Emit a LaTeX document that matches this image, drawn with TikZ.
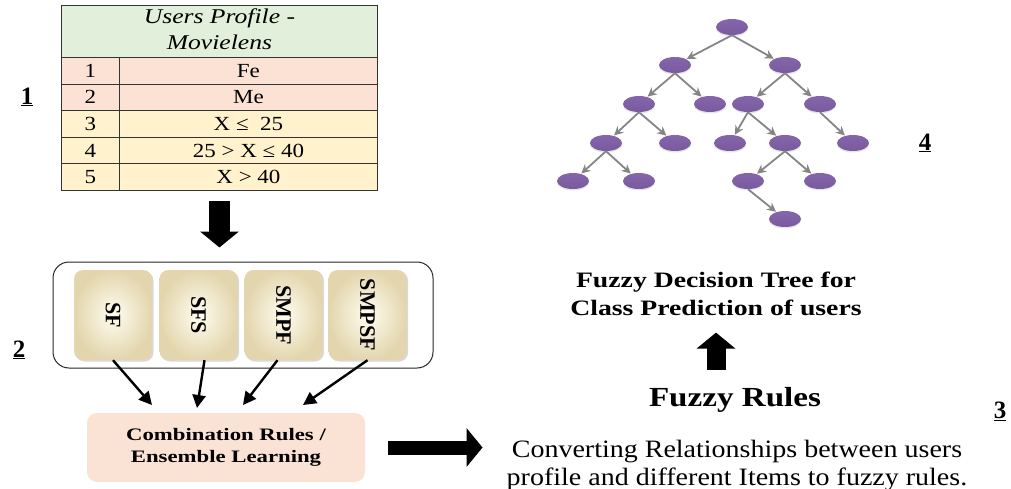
\documentclass[tikz,border=0pt]{standalone}
\usepackage{fontspec}
\usepackage{graphicx}
\setmainfont{Liberation Serif}
\usetikzlibrary{arrows.meta,shapes.geometric,shadows}
\definecolor{hdr}{HTML}{E2EFDA}
\definecolor{rowa}{HTML}{FBE2D5}
\definecolor{rowb}{HTML}{FFF2CC}
\definecolor{combc}{HTML}{FAE2D4}
\definecolor{creamin}{HTML}{FFFDF0}
\definecolor{creamout}{HTML}{E3D6AE}
\definecolor{purp}{HTML}{7A5A9E}
\definecolor{purpl}{HTML}{8466AA}
\definecolor{edgeg}{HTML}{858585}
\newcommand{\hs}[2]{\scalebox{#1}[1]{#2}}
\begin{document}
\begin{tikzpicture}[x=1pt,y=-1pt,
  cell/.style={draw=black!80, line width=0.9pt, anchor=north west, inner sep=0pt, minimum height=26.6pt, font=\fontsize{20}{22}\selectfont},
  ncell/.style={cell, minimum width=58pt},
  vcell/.style={cell, minimum width=258pt},
  fbox/.style={rounded corners=9pt, minimum width=78pt, minimum height=90pt, inner color=creamin, outer color=creamout, drop shadow={opacity=0.3, shadow xshift=1.5pt, shadow yshift=-1.5pt}},
  ftext/.style={rotate=-90, inner sep=0pt, font=\fontsize{22}{24}\selectfont\bfseries},
  thinarr/.style={draw=black, line width=2.4pt, -{Triangle[length=13pt,width=13pt]}},
  blk/.style={draw=black, -{Triangle[length=16pt,width=38pt]}},
  tn/.style={ellipse, top color=purpl, bottom color=purp, minimum width=32pt, minimum height=16pt, inner sep=0pt,
    drop shadow={opacity=0.2, shadow xshift=0pt, shadow yshift=-1.5pt}},
  te/.style={draw=edgeg, line width=1.8pt, -{Stealth[length=9pt,width=9pt]}, shorten >=0.5pt},
  lbl/.style={inner sep=0pt, font=\fontsize{25}{28}\selectfont\bfseries}
]
\useasboundingbox (0,0) rectangle (1011,489);
% ---- table
\node[cell, fill=hdr, minimum width=316pt, minimum height=52pt] (hd) at (61,5)
  {\fontsize{21}{26}\selectfont\hs{1.22}{\begin{tabular}{@{}c@{}}\itshape Users Profile -\\\itshape Movielens\end{tabular}}};
\node[ncell, fill=rowa] (r1n) at (61,57) {\hs{1.15}{1}};
\node[vcell, fill=rowa] (r1v) at (119,57) {\hs{1.15}{Fe}};
\node[ncell, fill=rowa] (r2n) at (61,83.6) {\hs{1.15}{2}};
\node[vcell, fill=rowa] (r2v) at (119,83.6) {\hs{1.15}{Me}};
\node[ncell, fill=rowb] (r3n) at (61,110.2) {\hs{1.15}{3}};
\node[vcell, fill=rowb] (r3v) at (119,110.2) {\hs{1.15}{X ≤ \ 25}};
\node[ncell, fill=rowb] (r4n) at (61,136.8) {\hs{1.15}{4}};
\node[vcell, fill=rowb] (r4v) at (119,136.8) {\hs{1.15}{25 > X ≤ 40}};
\node[ncell, fill=rowb] (r5n) at (61,163.4) {\hs{1.15}{5}};
\node[vcell, fill=rowb] (r5v) at (119,163.4) {\hs{1.15}{X > 40}};
\node[lbl] (l1) at (27,97) {\underline{1}};
% ---- container
\node[draw=black!85, line width=1pt, rounded corners=16pt, minimum width=380pt, minimum height=106pt] (cont) at (243,315) {};
\draw[blk, line width=21pt, shorten <=10pt, shorten >=14pt] (hd.south |- r5v.south) -- (hd.south |- cont.north);
\node[fbox] (b1) at (113,315) {};
\node[fbox] (b2) at (198.5,315) {};
\node[fbox] (b3) at (283.5,315) {};
\node[fbox] (b4) at (367.5,315) {};
\node[ftext] (t1) at (b1) {SF};
\node[ftext] (t2) at (b2) {SFS};
\node[ftext] (t3) at (b3) {SMPF};
\node[ftext] (t4) at (b4) {SMPSF};
\node[lbl] (l2) at (19,350) {\underline{2}};
% ---- combination
\node[fill=combc, rounded corners=10pt, minimum width=278pt, minimum height=69pt, inner sep=0pt,
  font=\fontsize{17.5}{22}\selectfont\bfseries] (comb) at (226,447.5)
  {\hs{1.3}{\begin{tabular}{@{}c@{}}Combination Rules /\\Ensemble Learning\end{tabular}}};
\coordinate (a1) at (152,405);
\coordinate (a2) at (197,408);
\coordinate (a3) at (243,405);
\coordinate (a4) at (303,405);
\draw[thinarr] (b1.south) -- (a1);
\draw[thinarr] ([xshift=6pt]b2.south) -- (a2);
\draw[thinarr] ([xshift=-6pt]b3.south) -- (a3);
\draw[thinarr] (b4.south) -- (a4);
% ---- right side texts
\node[anchor=base, inner sep=0pt, font=\fontsize{25}{28}\selectfont] (conv) at (737,457)
  {\hs{1.12}{\begin{tabular}[t]{@{}c@{}}Converting Relationships between users\\profile and different Items to fuzzy rules.\end{tabular}}};
\draw[blk, line width=14pt, shorten <=23pt, shorten >=24pt] (comb.east) -- (comb.east -| conv.west);
\node[anchor=base, inner sep=0pt, font=\fontsize{27.6}{30}\selectfont\bfseries] (fr) at (735,406) {\hs{1.2}{Fuzzy Rules}};
\node[anchor=base, inner sep=0pt, font=\fontsize{22}{28}\selectfont\bfseries] (fdt) at (716,287)
  {\hs{1.26}{\begin{tabular}[t]{@{}c@{}}Fuzzy Decision Tree for\\Class Prediction of users\end{tabular}}};
\draw[blk, line width=19pt, shorten <=17pt, shorten >=9pt] (fdt.south |- fr.north) -- (fdt.south);
\node[lbl] (l3) at (1000,411) {\underline{3}};
% ---- tree
\node[tn] (n0) at (732,27) {};
\node[tn] (n1) at (675,65) {};
\node[tn] (n2) at (785,65) {};
\node[tn] (n3) at (639,104) {};
\node[tn] (n4) at (710,104) {};
\node[tn] (n5) at (748,104) {};
\node[tn] (n6) at (820,104) {};
\node[tn] (n7) at (606,143) {};
\node[tn] (n8) at (675,143) {};
\node[tn] (n9) at (730,143) {};
\node[tn] (n10) at (785,143) {};
\node[tn] (n11) at (853,143) {};
\node[tn] (n12) at (573,181) {};
\node[tn] (n13) at (639,181) {};
\node[tn] (n14) at (748,181) {};
\node[tn] (n15) at (820,181) {};
\node[tn] (n16) at (785,219) {};
\foreach \p/\c in {n0/n1,n0/n2,n1/n3,n1/n4,n2/n5,n2/n6,n3/n7,n3/n8,n5/n9,n5/n10,n6/n11,n7/n12,n7/n13,n10/n14,n10/n15,n14/n16}
  \draw[te] (\p.south) -- (\c);
\node[lbl] (l4) at (925,143) {\underline{4}};
\end{tikzpicture}
\end{document}
